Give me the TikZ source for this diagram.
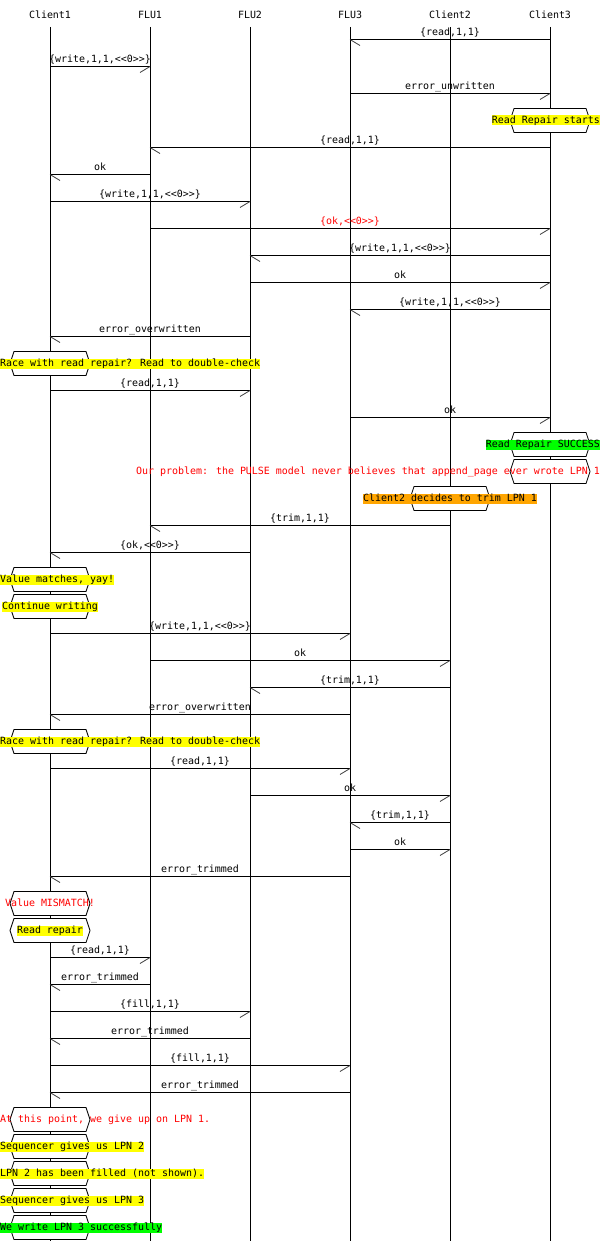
\documentclass[tikz,border=0pt]{standalone}
\usepackage{fontspec}
\newfontfamily\mscmono{DejaVu Sans Mono}
\usetikzlibrary{calc}
\definecolor{hlyellow}{HTML}{FFFF00}
\definecolor{hlgreen}{HTML}{00FF00}
\definecolor{hlorange}{HTML}{FFA500}
\definecolor{msgred}{HTML}{FF0000}
\newcommand\msg[5][black]{%
  \pgfmathsetmacro\yy{39.5+27*#2}%
  \path (#3 |- 0,\yy) coordinate (s#2) (#4 |- 0,\yy) coordinate (e#2);
  \draw[msgline] (s#2) -- node[lbl, text=#1] (m#2) {#5} (e#2);
  \draw[barb] let \p1=(s#2), \p2=(e#2) in (e#2) -- ++({ifthenelse(\x2>\x1,-10,10)},6);
}
\newcommand\abox[7]{%
  \pgfmathsetmacro\yy{39.5+27*#1}%
  \draw[hexbox, shift={(#2 |- 0,\yy)}] (-40,0) -- (-36,-12) -- (36,-12) -- (40,0) -- (36,12) -- (-36,12) -- cycle;
  \node[boxtxt, anchor=#6, fill=#4, text=#5] (b#1) at (#7,\yy) {#3};
}
\begin{document}
\begin{tikzpicture}[x=1pt,y=-1pt,
  every node/.style={font=\mscmono\fontsize{9.96}{12}\selectfont, inner sep=0pt},
  life/.style={line width=0.9pt},
  msgline/.style={line width=0.9pt},
  barb/.style={line width=0.8pt, black!75},
  hexbox/.style={draw, line width=0.8pt, fill=white},
  lbl/.style={anchor=base, yshift=3.6pt},
  boxtxt/.style={text height=8pt, text depth=2pt},
]
\fill[white] (0,0) rectangle (600,1241);
\useasboundingbox (0,0) rectangle (600,1241);
\coordinate (C1) at (50,0);
\coordinate (F1) at (150,0);
\coordinate (F2) at (250,0);
\coordinate (F3) at (350,0);
\coordinate (C2) at (450,0);
\coordinate (C3) at (550,0);
\foreach \n/\t in {C1/Client1,F1/FLU1,F2/FLU2,F3/FLU3,C2/Client2,C3/Client3}{
  \node[anchor=base] (h\n) at (\n |- 0,18.5) {\t};
  \draw[life] (\n |- 0,27) -- (\n |- 0,1241);
}
\msg{0}{C3}{F3}{\{read,1,1\}}
\msg{1}{C1}{F1}{\{write,1,1,<<0>>\}}
\msg{2}{F3}{C3}{error\_unwritten}
\abox{3}{C3}{Read Repair starts}{hlyellow}{black}{east}{600}
\msg{4}{C3}{F1}{\{read,1,1\}}
\msg{5}{F1}{C1}{ok}
\msg{6}{C1}{F2}{\{write,1,1,<<0>>\}}
\msg[msgred]{7}{F1}{C3}{\{ok,<<0>>\}}
\msg{8}{C3}{F2}{\{write,1,1,<<0>>\}}
\msg{9}{F2}{C3}{ok}
\msg{10}{C3}{F3}{\{write,1,1,<<0>>\}}
\msg{11}{F2}{C1}{error\_overwritten}
\abox{12}{C1}{Race with read repair? Read to double-check}{hlyellow}{black}{west}{0}
\msg{13}{C1}{F2}{\{read,1,1\}}
\msg{14}{F3}{C3}{ok}
\abox{15}{C3}{Read Repair SUCCESS}{hlgreen}{black}{east}{600}
\abox{16}{C3}{Our problem: the PULSE model never believes that append\_page ever wrote LPN 1}{none}{msgred}{east}{600}
\abox{17}{C2}{Client2 decides to trim LPN 1}{hlorange}{black}{center}{450}
\msg{18}{C2}{F1}{\{trim,1,1\}}
\msg{19}{F2}{C1}{\{ok,<<0>>\}}
\abox{20}{C1}{Value matches, yay!}{hlyellow}{black}{west}{0}
\abox{21}{C1}{Continue writing}{hlyellow}{black}{center}{50}
\msg{22}{C1}{F3}{\{write,1,1,<<0>>\}}
\msg{23}{F1}{C2}{ok}
\msg{24}{C2}{F2}{\{trim,1,1\}}
\msg{25}{F3}{C1}{error\_overwritten}
\abox{26}{C1}{Race with read repair? Read to double-check}{hlyellow}{black}{west}{0}
\msg{27}{C1}{F3}{\{read,1,1\}}
\msg{28}{F2}{C2}{ok}
\msg{29}{C2}{F3}{\{trim,1,1\}}
\msg{30}{F3}{C2}{ok}
\msg{31}{F3}{C1}{error\_trimmed}
\abox{32}{C1}{Value MISMATCH!}{none}{msgred}{center}{50}
\abox{33}{C1}{Read repair}{hlyellow}{black}{center}{50}
\msg{34}{C1}{F1}{\{read,1,1\}}
\msg{35}{F1}{C1}{error\_trimmed}
\msg{36}{C1}{F2}{\{fill,1,1\}}
\msg{37}{F2}{C1}{error\_trimmed}
\msg{38}{C1}{F3}{\{fill,1,1\}}
\msg{39}{F3}{C1}{error\_trimmed}
\abox{40}{C1}{At this point, we give up on LPN 1.}{none}{msgred}{west}{0}
\abox{41}{C1}{Sequencer gives us LPN 2}{hlyellow}{black}{west}{0}
\abox{42}{C1}{LPN 2 has been filled (not shown).}{hlyellow}{black}{west}{0}
\abox{43}{C1}{Sequencer gives us LPN 3}{hlyellow}{black}{west}{0}
\abox{44}{C1}{We write LPN 3 successfully}{hlgreen}{black}{west}{0}
\end{tikzpicture}
\end{document}
